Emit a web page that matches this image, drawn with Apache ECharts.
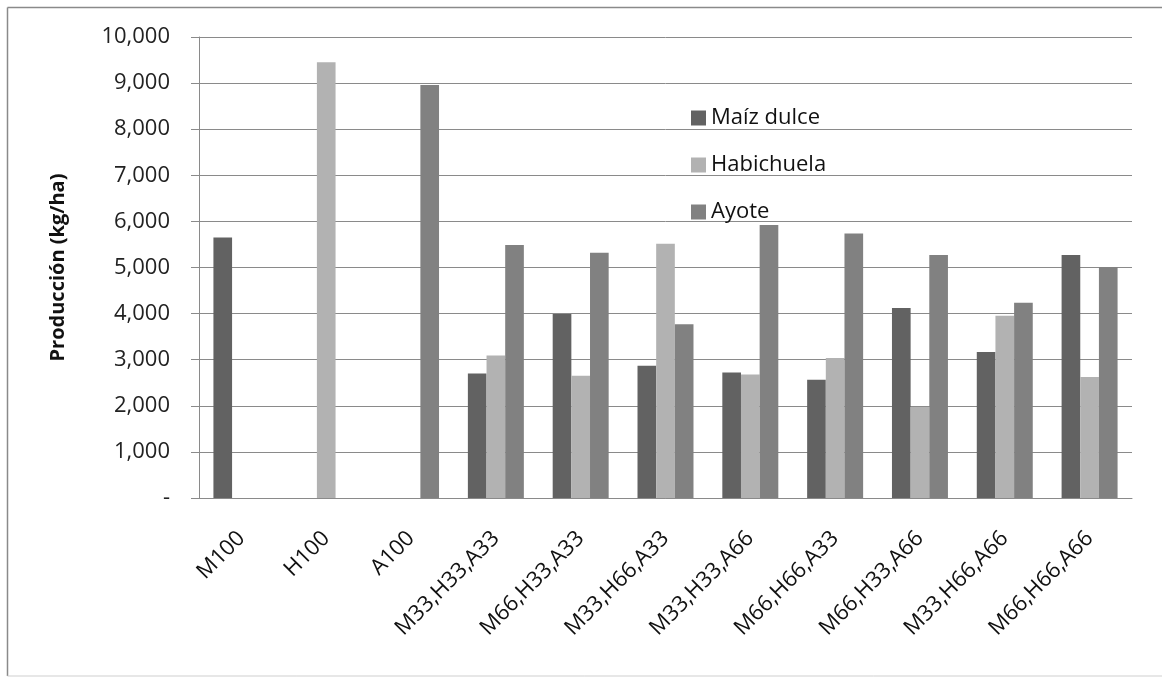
<!DOCTYPE html>
<html>
<head>
<meta charset="utf-8">
<script src="https://cdn.jsdelivr.net/npm/echarts@6/dist/echarts.min.js"></script>
<style>
  html, body { margin: 0; padding: 0; background: #ffffff; }
  #chart { width: 1162px; height: 677px; }
</style>
</head>
<body>
<div id="chart"></div>
<script>
// Tratamientos (proporción de cada cultivo en la asociación)
const categories = ['M100', 'H100', 'A100', 'M33,H33,A33', 'M66,H33,A33', 'M33,H66,A33',
  'M33,H33,A66', 'M66,H66,A33', 'M66,H33,A66', 'M33,H66,A66', 'M66,H66,A66'];

// Producción en kg/ha por cultivo
const maizDulce  = [5650, null, null, 2700, 3990, 2870, 2725, 2565, 4120, 3165, 5270];
const habichuela = [null, 9450, null, 3090, 2650, 5515, 2680, 3035, 1975, 3955, 2625];
const ayote      = [null, null, 8960, 5490, 5320, 3770, 5920, 5735, 5270, 4235, 5010];

const seriesNames = ['Maíz dulce', 'Habichuela', 'Ayote'];
const yTicks = [0, 1000, 2000, 3000, 4000, 5000, 6000, 7000, 8000, 9000, 10000];

const FONT = '"Open Sans", "Noto Sans", sans-serif';
const colors = ['#626262', '#b2b2b2', '#818181'];

const chart = echarts.init(document.getElementById('chart'), null, { renderer: 'canvas' });

function yLabel(v) {
  if (v === 0) return '-';
  return v.toLocaleString('en-US');
}

chart.setOption({
  animation: false,
  backgroundColor: '#ffffff',
  color: colors,
  textStyle: { fontFamily: FONT },
  grid: { left: 199, right: 30, top: 37, bottom: 179, containLabel: false },
  legend: {
    orient: 'vertical',
    left: 686,
    top: 102,
    itemWidth: 15,
    itemHeight: 15,
    itemGap: 25,
    icon: 'rect',
    data: seriesNames,
    textStyle: { fontFamily: FONT, fontSize: 22, color: '#111', lineHeight: 22 }
  },
  xAxis: {
    type: 'category',
    data: categories,
    axisLine: { show: true, lineStyle: { color: '#8a8a8a', width: 1 } },
    axisTick: { show: false },
    axisLabel: {
      rotate: 45,
      margin: 37,
      interval: 0,
      fontFamily: FONT,
      fontSize: 22,
      color: '#111'
    }
  },
  yAxis: {
    type: 'value',
    min: yTicks[0],
    max: yTicks[yTicks.length - 1],
    interval: 1000,
    name: 'Producción (kg/ha)',
    nameLocation: 'middle',
    nameRotate: 90,
    nameGap: 131,
    nameTextStyle: { fontFamily: FONT, fontSize: 20, fontWeight: 'bold', color: '#111' },
    axisLine: { show: true, lineStyle: { color: '#8a8a8a', width: 1 } },
    axisTick: { show: true, inside: false, length: 8, lineStyle: { color: '#8a8a8a' } },
    splitLine: { show: true, lineStyle: { color: '#8a8a8a', width: 1 } },
    axisLabel: {
      margin: 29,
      fontFamily: FONT,
      fontSize: 22,
      color: '#222',
      formatter: yLabel
    }
  },
  series: [
    { name: seriesNames[0], type: 'bar', data: maizDulce, barGap: '0%', barCategoryGap: '34%' },
    { name: seriesNames[1], type: 'bar', data: habichuela, barGap: '0%', barCategoryGap: '34%' },
    { name: seriesNames[2], type: 'bar', data: ayote, barGap: '0%', barCategoryGap: '34%' }
  ],
  graphic: [
    { type: 'line', silent: true, shape: { x1: 7.5, y1: 7.5, x2: 1162, y2: 7.5 }, style: { stroke: '#8a8a8a', lineWidth: 1.5 } },
    { type: 'line', silent: true, shape: { x1: 7.5, y1: 7.5, x2: 7.5, y2: 676 }, style: { stroke: '#8a8a8a', lineWidth: 1.5 } },
    { type: 'line', silent: true, shape: { x1: 7.5, y1: 676, x2: 1162, y2: 676 }, style: { stroke: '#cfcfcf', lineWidth: 1 } }
  ]
});
</script>
</body>
</html>
